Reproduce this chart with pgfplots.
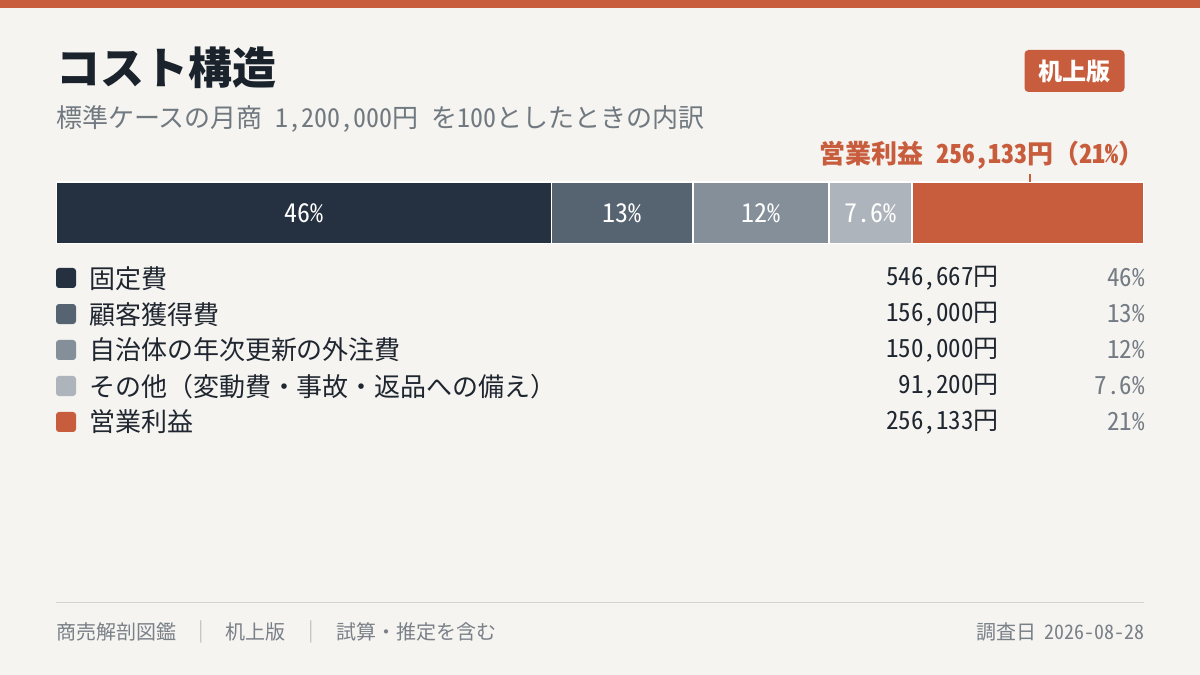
\documentclass[border=0pt]{standalone}
\usepackage{pgfplots}
\pgfplotsset{compat=1.18}
\usepackage{fontspec}
\setmainfont{Noto Sans CJK JP}
\newfontfamily\hw{Noto Sans CJK JP}[RawFeature=+hwid]

\definecolor{bgc}{HTML}{F5F4F0}
\definecolor{orng}{HTML}{C85D3D}
\definecolor{cA}{HTML}{253140}
\definecolor{cB}{HTML}{566370}
\definecolor{cC}{HTML}{858F99}
\definecolor{cD}{HTML}{ADB4BB}
\definecolor{titlec}{HTML}{1A222C}
\definecolor{subc}{HTML}{707880}
\definecolor{legc}{HTML}{1F2630}
\definecolor{pctc}{HTML}{737B84}
\definecolor{footc}{HTML}{7A8088}
\definecolor{sepc}{HTML}{C5C5C5}
\definecolor{rulec}{HTML}{D5D3CF}

\newcommand{\fs}[1]{\fontsize{#1}{#1}\selectfont}

\begin{document}
\begin{tikzpicture}
\fill[bgc] (0pt,0pt) rectangle (1200pt,675pt);
\fill[orng] (0pt,667pt) rectangle (1200pt,675pt);

\begin{axis}[
    at={(56pt,431pt)}, anchor=south west,
    width=1088pt, height=62pt, scale only axis,
    hide axis,
    xbar stacked, bar width=62pt,
    xmin=0, xmax=1200000, ymin=-0.5, ymax=0.5,
    legend cell align=left,
    legend image code/.code={\fill[#1, draw=none, rounded corners=3pt] (0pt,-10pt) rectangle (20pt,10pt);},
    legend style={at={(0,0)}, anchor=north west, yshift=-16pt,
        draw=none, fill=none, inner sep=0pt, outer sep=0pt,
        row sep=0pt, column sep=13pt, text=legc,
        font=\fs{26},
        nodes={inner sep=0pt, text height=28pt, text depth=8pt}},
    every axis plot/.append style={draw=white, line width=1.5pt},
]
\addplot[fill=cA] coordinates {(546667,0)};
\addlegendentry{固定費}
\addplot[fill=cB] coordinates {(156000,0)};
\addlegendentry{顧客獲得費}
\addplot[fill=cC] coordinates {(150000,0)};
\addlegendentry{自治体の年次更新の外注費}
\addplot[fill=cD] coordinates {(91200,0)};
\addlegendentry{その他（変動費・事故・返品への備え）}
\addplot[fill=orng] coordinates {(256133,0)};
\addlegendentry{営業利益}

% segment midpoints for the labels
\coordinate (m1) at (axis cs:273333,0);
\coordinate (m2) at (axis cs:624667,0);
\coordinate (m3) at (axis cs:777667,0);
\coordinate (m4) at (axis cs:898267,0);
\end{axis}

\node[text=white, font=\hw\fs{26}] at (m1) {46\%};
\node[text=white, font=\hw\fs{26}] at (m2) {13\%};
\node[text=white, font=\hw\fs{26}] at (m3) {12\%};
\node[text=white, font=\hw\fs{26}] at (m4) {7.6\%};

\begin{scope}[x=1pt, y=-1pt, shift={(0pt,675pt)}]
  % title block
  \node[anchor=west, inner sep=0pt, text=titlec, font=\bfseries\fs{44}] at (56,67.5) {コスト構造};
  \node[anchor=west, inner sep=0pt, text=subc, font=\fs{26}] at (56,118.5)
    {標準ケースの月商\hspace{0.5em}{\hw 1,200,000}円\hspace{0.5em}を{\hw 100}としたときの内訳};
  \node[fill=orng, rounded corners=4pt, minimum width=100pt, minimum height=42pt,
        inner sep=0pt, text=white, font=\bfseries\fs{24}] at (1074.5,71) {机上版};

  % callout over the profit segment
  \node[anchor=east, inner sep=0pt, text=orng, font=\bfseries\fs{26}] at (1145,155.5)
    {営業利益\hspace{0.5em}{\hw 256,133}円（{\hw 21\%}）};
  \draw[orng, line width=1.2pt] (1030,174) -- (1030,182);

  % amounts and shares
  \node[anchor=east, inner sep=0pt, text=legc, font=\fs{25}] at (999,278) {{\hw 546,667}円};
  \node[anchor=east, inner sep=0pt, text=legc, font=\fs{25}] at (999,314) {{\hw 156,000}円};
  \node[anchor=east, inner sep=0pt, text=legc, font=\fs{25}] at (999,350) {{\hw 150,000}円};
  \node[anchor=east, inner sep=0pt, text=legc, font=\fs{25}] at (999,386) {{\hw 91,200}円};
  \node[anchor=east, inner sep=0pt, text=legc, font=\fs{25}] at (999,422) {{\hw 256,133}円};
  \node[anchor=east, inner sep=0pt, text=pctc, font=\hw\fs{25}] at (1145,278) {46\%};
  \node[anchor=east, inner sep=0pt, text=pctc, font=\hw\fs{25}] at (1145,314) {13\%};
  \node[anchor=east, inner sep=0pt, text=pctc, font=\hw\fs{25}] at (1145,350) {12\%};
  \node[anchor=east, inner sep=0pt, text=pctc, font=\hw\fs{25}] at (1145,386) {7.6\%};
  \node[anchor=east, inner sep=0pt, text=pctc, font=\hw\fs{25}] at (1145,422) {21\%};

  % footer
  \draw[rulec, line width=1pt] (56,603) -- (1144,603);
  \node[anchor=west, inner sep=0pt, text=footc, font=\fs{20}] at (56,632) {商売解剖図鑑};
  \node[inner sep=0pt, text=sepc, font=\fs{20}] at (201,632) {|};
  \node[anchor=west, inner sep=0pt, text=footc, font=\fs{20}] at (225,632) {机上版};
  \node[inner sep=0pt, text=sepc, font=\fs{20}] at (311,632) {|};
  \node[anchor=west, inner sep=0pt, text=footc, font=\fs{20}] at (336,632) {試算・推定を含む};
  \node[anchor=east, inner sep=0pt, text=footc, font=\fs{20}] at (1145,632) {調査日\hspace{0.4em}{\hw 2026-08-28}};
\end{scope}
\end{tikzpicture}
\end{document}
